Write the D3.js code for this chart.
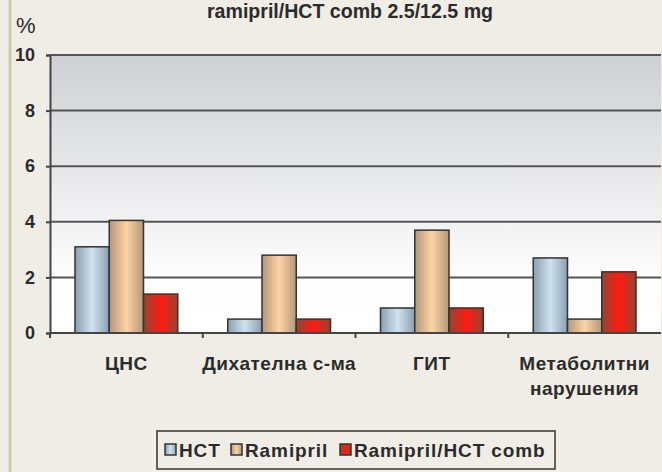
<!DOCTYPE html>
<html>
<head>
<meta charset="utf-8">
<script src="https://cdn.jsdelivr.net/npm/d3@7"></script>
<style>
  html, body { margin: 0; padding: 0; background: #efede5; }
  svg { display: block; }
  text { font-family: 'Liberation Sans', Arial, sans-serif; fill: #2b2b2b; }
</style>
</head>
<body>
<div id="chart"></div>
<script>
const categories = [['ЦНС'], ['Дихателна с-ма'], ['ГИТ'], ['Метаболитни', 'нарушения']];
const seriesNames = ['HCT', 'Ramipril', 'Ramipril/HCT comb'];
const hctValues = [3.1, 0.5, 0.9, 2.7];
const ramiprilValues = [4.05, 2.8, 3.7, 0.5];
const combValues = [1.4, 0.5, 0.9, 2.2];
const yTicks = [0, 2, 4, 6, 8, 10];
const titleText = 'ramipril/HCT comb 2.5/12.5 mg';

const render = () => {
  const width = 662;
  const height = 472;
  const margin = { top: 55, right: 1, bottom: 139, left: 50 };
  const innerWidth = width - margin.left - margin.right;
  const innerHeight = height - margin.top - margin.bottom;

  const svg = d3
    .select('#chart')
    .append('svg')
    .attr('width', width)
    .attr('height', height);

  const defs = svg.append('defs');

  // plot background gradient
  const bg = defs
    .append('linearGradient')
    .attr('id', 'plot-bg')
    .attr('x1', 0).attr('y1', 0).attr('x2', 0).attr('y2', 1);
  bg.append('stop').attr('offset', '0%').attr('stop-color', '#cfd0d5');
  bg.append('stop').attr('offset', '80%').attr('stop-color', '#fdfdfd');
  bg.append('stop').attr('offset', '100%').attr('stop-color', '#ffffff');

  // cylinder-like bar gradients
  const barColors = [
    { edge: '#8a9fb0', mid: '#cfe2ee' },
    { edge: '#b3977a', mid: '#fdd3a4' },
    { edge: '#97432f', mid: '#ff1b12' },
  ];
  barColors.forEach((c, i) => {
    const g = defs
      .append('linearGradient')
      .attr('id', `bar-grad-${i}`)
      .attr('x1', 0).attr('y1', 0).attr('x2', 1).attr('y2', 0);
    g.append('stop').attr('offset', '0%').attr('stop-color', c.edge);
    g.append('stop').attr('offset', '50%').attr('stop-color', c.mid);
    g.append('stop').attr('offset', '100%').attr('stop-color', c.edge);
  });

  // left frame line
  svg
    .append('line')
    .attr('x1', 10).attr('x2', 10)
    .attr('y1', 0).attr('y2', height)
    .attr('stroke', '#cfcca5')
    .attr('stroke-width', 3);

  // Title
  svg
    .append('text')
    .attr('x', 350)
    .attr('y', 18)
    .attr('text-anchor', 'middle')
    .attr('textLength', 286)
    .attr('lengthAdjust', 'spacingAndGlyphs')
    .style('font-family', "'Liberation Sans Narrow', 'Liberation Sans', sans-serif")
    .style('font-weight', 'bold')
    .style('font-size', '20px')
    .text(titleText);

  // % label
  svg
    .append('text')
    .attr('x', 16)
    .attr('y', 33)
    .style('font-size', '22px')
    .text('%');

  const g = svg
    .append('g')
    .attr('transform', `translate(${margin.left}, ${margin.top})`);

  g.append('rect')
    .attr('width', innerWidth)
    .attr('height', innerHeight)
    .attr('fill', 'url(#plot-bg)');

  // scales
  const x0 = d3
    .scaleBand()
    .domain(d3.range(categories.length))
    .range([0, innerWidth])
    .paddingInner(0)
    .paddingOuter(0);

  const x1 = d3
    .scaleBand()
    .domain(d3.range(seriesNames.length))
    .range([0, x0.bandwidth()])
    .paddingOuter(0.73)
    .paddingInner(0);

  const yScale = d3.scaleLinear().domain([0, 10]).range([innerHeight, 0]);

  // gridlines
  g.append('g')
    .selectAll('line')
    .data(yTicks.filter((d) => d > 0))
    .enter()
    .append('line')
    .attr('x1', 0)
    .attr('x2', innerWidth)
    .attr('y1', (d) => yScale(d))
    .attr('y2', (d) => yScale(d))
    .attr('stroke', '#555')
    .attr('stroke-width', 2);

  // bars
  const series = [hctValues, ramiprilValues, combValues];
  const groups = g
    .append('g')
    .selectAll('g')
    .data(categories.map((c, i) => i))
    .enter()
    .append('g')
    .attr('transform', (i) => `translate(${x0(i)},0)`);

  groups
    .selectAll('rect')
    .data((i) => series.map((s, k) => ({ k, v: s[i] })))
    .enter()
    .append('rect')
    .attr('x', (d) => x1(d.k))
    .attr('width', x1.bandwidth())
    .attr('y', (d) => yScale(d.v))
    .attr('height', (d) => innerHeight - yScale(d.v))
    .attr('fill', (d) => `url(#bar-grad-${d.k})`)
    .attr('stroke', '#333')
    .attr('stroke-width', 1.5);

  // y axis
  const yAxis = d3.axisLeft(yScale).tickValues(yTicks).tickSize(4).tickPadding(11);
  const yAxisGroup = g.append('g').call(yAxis);
  yAxisGroup.select('.domain').attr('stroke', '#444').attr('stroke-width', 2);
  yAxisGroup.selectAll('.tick line').attr('stroke', '#444').attr('stroke-width', 2);
  yAxisGroup
    .selectAll('.tick text')
    .style('font-family', "'Liberation Sans', Arial, sans-serif")
    .style('font-size', '18px')
    .style('font-weight', 'bold')
    .attr('fill', '#2b2b2b');

  // x axis line with boundary ticks
  const xAxisGroup = g.append('g').attr('transform', `translate(0, ${innerHeight})`);
  xAxisGroup
    .append('line')
    .attr('x1', 0)
    .attr('x2', innerWidth)
    .attr('stroke', '#444')
    .attr('stroke-width', 2);
  xAxisGroup
    .selectAll('.bt')
    .data(d3.range(categories.length))
    .enter()
    .append('line')
    .attr('class', 'bt')
    .attr('x1', (i) => x0(i))
    .attr('x2', (i) => x0(i))
    .attr('y1', 0)
    .attr('y2', 5)
    .attr('stroke', '#444')
    .attr('stroke-width', 2);

  // category labels
  const labels = xAxisGroup
    .selectAll('.cat')
    .data(categories)
    .enter()
    .append('text')
    .attr('class', 'cat')
    .attr('text-anchor', 'middle')
    .style('font-size', '19px')
    .style('letter-spacing', '0.5px')
    .style('font-weight', 'bold');
  labels
    .selectAll('tspan')
    .data((d, i) => d.map((line, j) => ({ line, j, i })))
    .enter()
    .append('tspan')
    .attr('x', (d) => x0(d.i) + x0.bandwidth() / 2)
    .attr('y', (d) => 37 + d.j * 25)
    .text((d) => d.line);

  // Legend
  const legend = svg.append('g').attr('transform', 'translate(157, 431)');
  legend
    .append('rect')
    .attr('width', 398)
    .attr('height', 38)
    .attr('fill', '#efede5')
    .attr('stroke', '#333')
    .attr('stroke-width', 1.5);

  const legendX = [8, 74, 183];
  const items = legend
    .selectAll('.legend-label')
    .data(seriesNames)
    .enter()
    .append('g')
    .attr('class', 'legend-label')
    .attr('transform', (d, i) => `translate(${legendX[i]}, 0)`);
  items
    .append('rect')
    .attr('y', 13)
    .attr('width', 11)
    .attr('height', 11)
    .attr('fill', (d, i) => `url(#bar-grad-${i})`)
    .attr('stroke', '#333')
    .attr('stroke-width', 1.5);
  items
    .append('text')
    .attr('x', 14)
    .attr('y', 26)
    .style('font-size', '19px')
    .style('letter-spacing', '0.9px')
    .style('font-weight', 'bold')
    .text((d) => d);
};

render();
</script>
</body>
</html>
